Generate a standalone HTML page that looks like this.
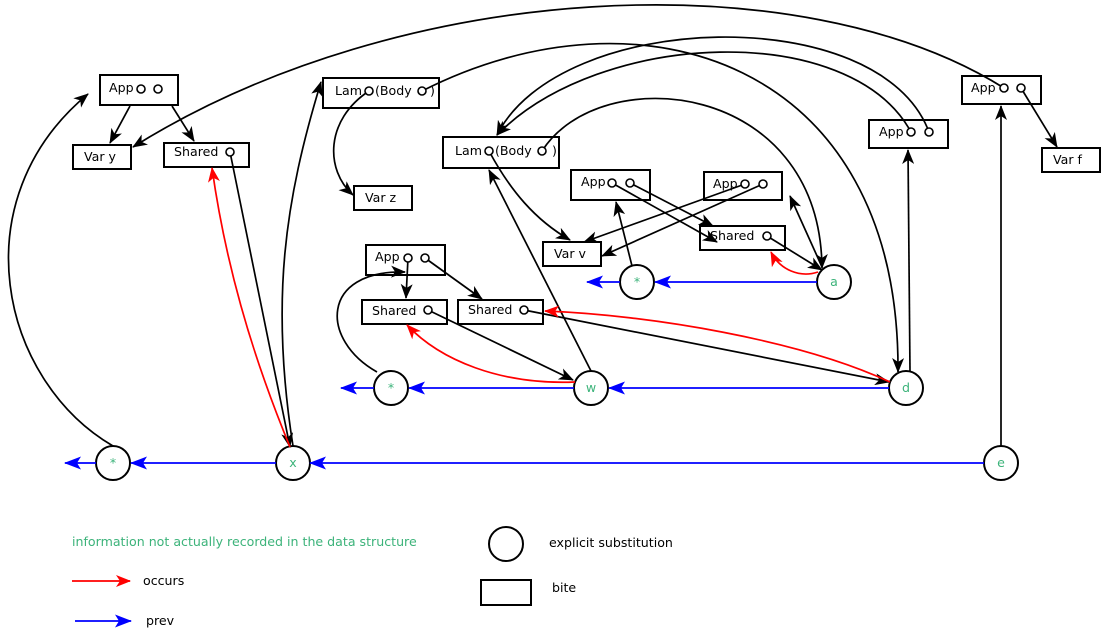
<!DOCTYPE html>
<html><head><meta charset="utf-8"><style>
body{margin:0;background:#fff}
svg{display:block}
text{font-family:"DejaVu Sans","Liberation Sans",sans-serif;font-size:12.6px;fill:#000}
.g{fill:#3cb37a}
</style></head><body>
<svg width="1101" height="629" viewBox="0 0 1101 629" xmlns="http://www.w3.org/2000/svg">
<defs>
<marker id="k" markerWidth="15" markerHeight="12" refX="14" refY="6" orient="auto" markerUnits="userSpaceOnUse"><path d="M0,0 L15,6 L0,12 L4,6z" fill="#000"/></marker>
<marker id="r" markerWidth="15" markerHeight="12" refX="14" refY="6" orient="auto" markerUnits="userSpaceOnUse"><path d="M0,0 L15,6 L0,12 L4,6z" fill="#f00"/></marker>
<marker id="b" markerWidth="17" markerHeight="13" refX="16" refY="6.5" orient="auto" markerUnits="userSpaceOnUse"><path d="M0,0 L17,6.5 L0,13 L4,6.5z" fill="#00f"/></marker>
</defs>
<g fill="#fff" stroke="#000" stroke-width="2">
<rect x="100" y="75" width="78" height="30"/>
<rect x="73" y="145" width="58" height="24"/>
<rect x="164" y="143" width="85" height="24"/>
<rect x="323" y="78" width="116" height="30"/>
<rect x="354" y="186" width="58" height="24"/>
<rect x="443" y="137" width="116" height="31"/>
<rect x="571" y="170" width="79" height="30"/>
<rect x="704" y="172" width="78" height="28"/>
<rect x="700" y="226" width="85" height="24"/>
<rect x="543" y="242" width="58" height="24"/>
<rect x="366" y="245" width="79" height="30"/>
<rect x="362" y="300" width="85" height="24"/>
<rect x="458" y="300" width="85" height="24"/>
<rect x="869" y="120" width="79" height="28"/>
<rect x="962" y="76" width="79" height="28"/>
<rect x="1042" y="148" width="58" height="24"/>
<circle cx="113" cy="463" r="17"/><circle cx="293" cy="463" r="17"/><circle cx="1001" cy="463" r="17"/>
<circle cx="391" cy="388" r="17"/><circle cx="591" cy="388" r="17"/><circle cx="906" cy="388" r="17"/>
<circle cx="637" cy="282" r="17"/><circle cx="834" cy="282" r="17"/>
<circle cx="506" cy="544" r="17"/><rect x="481" y="580" width="50" height="25"/>
</g>
<g fill="none" stroke="#00f" stroke-width="1.7" marker-end="url(#b)">
<path d="M984,463 L310,463"/><path d="M276,463 L131,463"/><path d="M96,463 L65,463"/>
<path d="M889,388 L609,388"/><path d="M574,388 L409,388"/><path d="M374,388 L341,388"/>
<path d="M817,282 L655,282"/><path d="M620,282 L587,282"/>
<path d="M75,621 L131,621"/>
</g>
<g fill="none" stroke="#000" stroke-width="1.7" marker-end="url(#k)">
<path d="M113,446 C 0,380 -40,200 88,94"/>
<path d="M130,106 L110,143"/><path d="M172,106 L194,141"/>
<path d="M1004,88 C 800,-40 400,-20 133,147"/>
<path d="M230,152 L290,447"/>
<path d="M293,446 C 270,300 285,200 321,82"/>
<path d="M369,91 C 325,120 325,170 353,195"/>
<path d="M422,91 C 640,-20 900,60 898,372"/>
<path d="M911,132 C 850,20 600,30 497,135"/>
<path d="M929,132 C 880,0 560,10 497,135"/>
<path d="M542,151 C 600,60 820,80 822,268"/>
<path d="M489,151 C 510,190 535,220 570,240"/>
<path d="M591,371 L489,170"/>
<path d="M612,183 L717,242"/><path d="M630,183 L713,226"/>
<path d="M745,184 L584,242"/><path d="M763,184 L602,256"/>
<path d="M632,266 L616,202"/>
<path d="M822,267 L790,196"/>
<path d="M767,236 L822,270"/>
<path d="M910,372 L908,150"/>
<path d="M1001,446 L1001,106"/>
<path d="M1021,88 L1057,147"/>
<path d="M408,258 L406,298"/><path d="M425,258 L482,299"/>
<path d="M377,372 C 320,340 320,270 405,272"/>
<path d="M428,310 L573,380"/><path d="M524,310 L889,382"/>
</g>
<g fill="none" stroke="#f00" stroke-width="1.7" marker-end="url(#r)">
<path d="M290,447 C 250,350 225,260 212,168"/>
<path d="M575,382 C 500,385 440,360 407,325"/>
<path d="M890,382 C 800,340 650,315 545,311"/>
<path d="M818,272 C 800,278 780,270 771,252"/>
<path d="M72,581 L130,581"/>
</g>
<g fill="#fff" stroke="#000" stroke-width="1.6">
<circle cx="141" cy="89" r="4"/><circle cx="158" cy="89" r="4"/>
<circle cx="230" cy="152" r="4"/>
<circle cx="369" cy="91" r="4"/><circle cx="422" cy="91" r="4"/>
<circle cx="489" cy="151" r="4"/><circle cx="542" cy="151" r="4"/>
<circle cx="612" cy="183" r="4"/><circle cx="630" cy="183" r="4"/>
<circle cx="745" cy="184" r="4"/><circle cx="763" cy="184" r="4"/>
<circle cx="767" cy="236" r="4"/>
<circle cx="408" cy="258" r="4"/><circle cx="425" cy="258" r="4"/>
<circle cx="428" cy="310" r="4"/><circle cx="524" cy="310" r="4"/>
<circle cx="911" cy="132" r="4"/><circle cx="929" cy="132" r="4"/>
<circle cx="1004" cy="88" r="4"/><circle cx="1021" cy="88" r="4"/>
</g>
<text x="109" y="92">App</text>
<text x="84" y="161">Var y</text>
<text x="174" y="156">Shared</text>
<text x="335" y="95">Lam</text><text x="375" y="95">(Body</text><text x="430" y="95">)</text>
<text x="455" y="155">Lam</text><text x="495" y="155">(Body</text><text x="552" y="155">)</text>
<text x="365" y="202">Var z</text>
<text x="581" y="186">App</text>
<text x="713" y="188">App</text>
<text x="710" y="240">Shared</text>
<text x="554" y="258">Var v</text>
<text x="375" y="261">App</text>
<text x="372" y="315">Shared</text>
<text x="468" y="314">Shared</text>
<text x="879" y="136">App</text>
<text x="971" y="92">App</text>
<text x="1053" y="164">Var f</text>
<g text-anchor="middle">
<text class="g" x="113" y="467">*</text><text class="g" x="293" y="467">x</text><text class="g" x="1001" y="467">e</text>
<text class="g" x="391" y="392">*</text><text class="g" x="591" y="392">w</text><text class="g" x="906" y="392">d</text>
<text class="g" x="637" y="286">*</text><text class="g" x="834" y="286">a</text>
</g>
<text class="g" x="72" y="546">information not actually recorded in the data structure</text>
<text x="143" y="585">occurs</text>
<text x="146" y="625">prev</text>
<text x="549" y="547">explicit substitution</text>
<text x="552" y="592">bite</text>
</svg>
</body></html>
